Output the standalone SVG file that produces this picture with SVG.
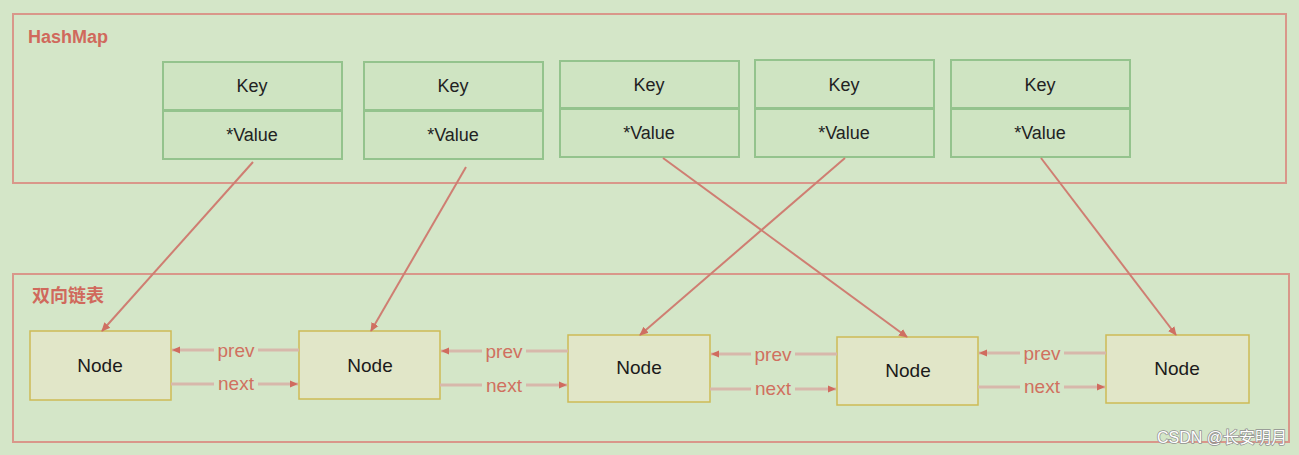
<svg xmlns="http://www.w3.org/2000/svg" width="1299" height="455" viewBox="0 0 1299 455">
<style>
.frame{fill:none;stroke:#d9978a;stroke-width:2}
.title{font-family:"Liberation Sans",Arial,"Noto Sans CJK SC",sans-serif;font-weight:bold;font-size:18px;fill:#d0695c}
.kv{fill:#cfe4c2;stroke:#94c38d;stroke-width:2}
.kvt{font-family:"Liberation Sans",Arial,sans-serif;font-size:18px;fill:#222;text-anchor:middle}
.node{fill:#e1e6c8;stroke:#cdbb55;stroke-width:1.5}
.nt{font-family:"Liberation Sans",Arial,sans-serif;font-size:19px;fill:#1a1a1a;text-anchor:middle}
.ptr{stroke:#cf7e72;stroke-width:2;fill:none;marker-end:url(#ah)}
.link{stroke:#d7b8ab;stroke-width:3;fill:none;marker-end:url(#ah2)}
.lt{font-family:"Liberation Sans",Arial,sans-serif;font-size:19px;fill:#d0705f;text-anchor:middle}
.lbg{fill:#d4e6c8}
</style>
<defs>
<marker id="ah" markerWidth="10" markerHeight="10" refX="8" refY="5" orient="auto" markerUnits="userSpaceOnUse">
<path d="M0,1 L9,5 L0,9 Z" fill="#cf6f62"/>
</marker>
<marker id="ah2" markerWidth="10" markerHeight="10" refX="8" refY="5" orient="auto" markerUnits="userSpaceOnUse">
<path d="M0,1.5 L8,5 L0,8.5 Z" fill="#d06b5e"/>
</marker>
</defs>
<rect x="0" y="0" width="1299" height="455" fill="#d4e6c8"/>

<g id="hashmap">
<rect class="frame" x="13" y="14" width="1273" height="169"/>
<text class="title" x="28" y="43">HashMap</text>
</g>
<g id="linkedlist">
<rect class="frame" x="13" y="274" width="1276" height="168"/>
<text class="title" x="32" y="302">双向链表</text>
</g>

<g id="entry1">
<rect class="kv" x="163" y="62" width="179" height="48"/>
<rect class="kv" x="163" y="111" width="179" height="48"/>
<text class="kvt" x="252" y="92">Key</text>
<text class="kvt" x="252" y="141">*Value</text>
</g>
<g id="entry2">
<rect class="kv" x="364" y="62" width="179" height="48"/>
<rect class="kv" x="364" y="111" width="179" height="48"/>
<text class="kvt" x="453" y="92">Key</text>
<text class="kvt" x="453" y="141">*Value</text>
</g>
<g id="entry3">
<rect class="kv" x="560" y="61" width="179" height="47"/>
<rect class="kv" x="560" y="109" width="179" height="48"/>
<text class="kvt" x="649" y="91">Key</text>
<text class="kvt" x="649" y="139">*Value</text>
</g>
<g id="entry4">
<rect class="kv" x="755" y="60" width="179" height="48"/>
<rect class="kv" x="755" y="109" width="179" height="48"/>
<text class="kvt" x="844" y="91">Key</text>
<text class="kvt" x="844" y="139">*Value</text>
</g>
<g id="entry5">
<rect class="kv" x="951" y="60" width="179" height="48"/>
<rect class="kv" x="951" y="109" width="179" height="48"/>
<text class="kvt" x="1040" y="91">Key</text>
<text class="kvt" x="1040" y="139">*Value</text>
</g>

<g id="node1">
<rect class="node" x="30" y="331" width="141" height="69"/>
<text class="nt" x="100" y="372">Node</text>
</g>
<g id="node2">
<rect class="node" x="299" y="331" width="141" height="68"/>
<text class="nt" x="370" y="372">Node</text>
</g>
<g id="node3">
<rect class="node" x="568" y="335" width="142" height="67"/>
<text class="nt" x="639" y="374">Node</text>
</g>
<g id="node4">
<rect class="node" x="837" y="337" width="141" height="68"/>
<text class="nt" x="908" y="377">Node</text>
</g>
<g id="node5">
<rect class="node" x="1106" y="335" width="143" height="68"/>
<text class="nt" x="1177" y="375">Node</text>
</g>

<g id="connectors">
<line class="ptr" x1="253" y1="162" x2="102" y2="331"/>
<line class="ptr" x1="466" y1="167" x2="371" y2="331"/>
<line class="ptr" x1="663" y1="158" x2="907" y2="337"/>
<line class="ptr" x1="845" y1="158" x2="640" y2="335"/>
<line class="ptr" x1="1041" y1="158" x2="1176" y2="335"/>

<line class="link" x1="299" y1="350" x2="172" y2="350"/>
<line class="link" x1="171" y1="384" x2="298" y2="384"/>
<line class="link" x1="568" y1="351" x2="441" y2="351"/>
<line class="link" x1="440" y1="385" x2="567" y2="385"/>
<line class="link" x1="837" y1="354" x2="711" y2="354"/>
<line class="link" x1="710" y1="389" x2="836" y2="389"/>
<line class="link" x1="1106" y1="353" x2="979" y2="353"/>
<line class="link" x1="978" y1="387" x2="1105" y2="387"/>

<rect class="lbg" x="214" y="340" width="44" height="18"/>
<text class="lt" x="236" y="357">prev</text>
<rect class="lbg" x="214" y="375" width="44" height="16"/>
<text class="lt" x="236" y="390">next</text>
<rect class="lbg" x="482" y="341" width="44" height="18"/>
<text class="lt" x="504" y="358">prev</text>
<rect class="lbg" x="482" y="376" width="44" height="16"/>
<text class="lt" x="504" y="392">next</text>
<rect class="lbg" x="751" y="344" width="44" height="18"/>
<text class="lt" x="773" y="361">prev</text>
<rect class="lbg" x="751" y="380" width="44" height="16"/>
<text class="lt" x="773" y="395">next</text>
<rect class="lbg" x="1020" y="343" width="44" height="18"/>
<text class="lt" x="1042" y="360">prev</text>
<rect class="lbg" x="1020" y="378" width="44" height="16"/>
<text class="lt" x="1042" y="393">next</text>
</g>

<text x="1287" y="443" text-anchor="end" font-family="'Liberation Sans',Arial,'Noto Sans CJK SC',sans-serif" font-size="16" fill="#ffffff" stroke="#909090" stroke-width="1.5" paint-order="stroke">CSDN @长安明月</text>
</svg>
